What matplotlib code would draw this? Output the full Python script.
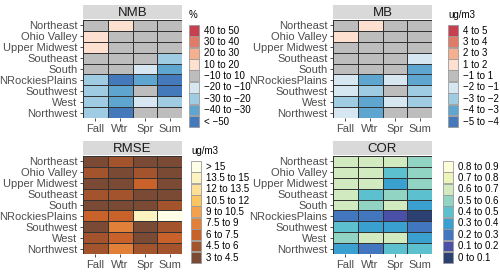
import numpy as np
import matplotlib
matplotlib.use("Agg")
import matplotlib.pyplot as plt
from matplotlib.colors import ListedColormap, BoundaryNorm
from matplotlib.patches import Patch

plt.rcParams['font.family'] = ['Liberation Sans', 'DejaVu Sans']

regions = ["Northeast", "Ohio Valley", "Upper Midwest", "Southeast", "South",
           "NRockiesPlains", "Southwest", "West", "Northwest"]
seasons = ["Fall", "Wtr", "Spr", "Sum"]

# NMB (%) estimated values per region (rows) and season (cols)
nmb = [
    [0, 15, 0, 0],
    [15, 0, 0, 0],
    [15, 0, 0, 0],
    [0, 0, 0, -25],
    [0, 0, -15, -35],
    [-25, -55, -35, -55],
    [-25, -35, 0, -55],
    [-25, -35, -15, -25],
    [-25, -55, 0, 0],
]
# MB (ug/m3)
mb = [
    [0, 1.5, 0, 0],
    [1.5, 0, 0, 0],
    [0, 0, 0, 0],
    [0, 0, 0, -1.5],
    [0, 0, 0, -3.5],
    [-1.5, -3.5, -1.5, -3.5],
    [-1.5, -2.5, 0, -2.5],
    [-2.5, -3.5, -1.5, -2.5],
    [-1.5, -3.5, 0, 0],
]
# RMSE (ug/m3)
rmse = [
    [4.0, 5.2, 4.0, 4.0],
    [5.2, 4.0, 5.2, 4.0],
    [4.0, 4.0, 6.8, 4.0],
    [5.2, 5.2, 4.0, 4.0],
    [4.0, 4.0, 4.0, 5.2],
    [6.8, 6.8, 14.0, 16.0],
    [4.0, 8.0, 4.0, 5.2],
    [5.2, 6.8, 4.0, 6.8],
    [5.2, 8.0, 5.2, 5.2],
]
# COR
cor = [
    [0.65, 0.65, 0.65, 0.55],
    [0.65, 0.65, 0.45, 0.55],
    [0.65, 0.65, 0.35, 0.55],
    [0.65, 0.45, 0.55, 0.45],
    [0.65, 0.55, 0.65, 0.35],
    [0.25, 0.25, 0.15, 0.05],
    [0.45, 0.35, 0.35, 0.25],
    [0.55, 0.65, 0.65, 0.35],
    [0.35, 0.25, 0.45, 0.45],
]

nmb_bounds = [-100, -40, -30, -20, -10, 10, 20, 30, 40, 50]
nmb_labels = ["< \u221250", "\u221240 to \u221230", "\u221230 to \u221220", "\u221220 to \u221210",
              "\u221210 to 10", "10 to 20", "20 to 30", "30 to 40", "40 to 50"]
mb_bounds = [-5, -4, -3, -2, -1, 1, 2, 3, 4, 5]
mb_labels = ["\u22125 to \u22124", "\u22124 to \u22123", "\u22123 to \u22122", "\u22122 to \u22121",
             "\u22121 to 1", "1 to 2", "2 to 3", "3 to 4", "4 to 5"]
rmse_bounds = [3, 4.5, 6, 7.5, 9, 10.5, 12, 13.5, 15, 100]
rmse_labels = ["3 to 4.5", "4.5 to 6", "6 to 7.5", "7.5 to 9", "9 to 10.5",
               "10.5 to 12", "12 to 13.5", "13.5 to 15", "> 15"]
cor_bounds = [0, 0.1, 0.2, 0.3, 0.4, 0.5, 0.6, 0.7, 0.8, 0.9]
cor_labels = ["0 to 0.1", "0.1 to 0.2", "0.2 to 0.3", "0.3 to 0.4", "0.4 to 0.5",
              "0.5 to 0.6", "0.6 to 0.7", "0.7 to 0.8", "0.8 to 0.9"]

div_colors = ["#4479bb", "#5ea5d0", "#a0cce3", "#d6e7f1", "#bdbdbd",
              "#fde0cf", "#f5b090", "#e07b68", "#c8404f"]
rmse_colors = ["#7b4a35", "#a4542d", "#c9622a", "#e2803a", "#f5a04a",
               "#fdc462", "#fde098", "#fdf3c0", "#fefee6"]
cor_colors = ["#2c4172", "#4a4fa8", "#4277bf", "#3aa0d0", "#5cc0ce",
              "#92d4c4", "#d1eabf", "#eef5bb", "#fdfdda"]

W, H = 500, 272
fig = plt.figure(figsize=(W / 100, H / 100), dpi=100)

panels = [
    ("NMB", nmb, nmb_bounds, nmb_labels, div_colors, "%", 83, 20, 189, 25),
    ("MB", mb, mb_bounds, mb_labels, div_colors, "ug/m3", 333, 20, 448, 25),
    ("RMSE", rmse, rmse_bounds, rmse_labels, rmse_colors, "ug/m3", 83, 156, 191, 161),
    ("COR", cor, cor_bounds, cor_labels, cor_colors, None, 333, 156, 443, 161),
]

pw, ph = 99, 98
for title, data, bounds, labels, colors, ltitle, x0, y0, lx, ly in panels:
    ax = fig.add_axes([x0 / W, 1 - (y0 + ph) / H, pw / W, ph / H])
    arr = np.array(data, dtype=float)
    cmap = ListedColormap(colors)
    norm = BoundaryNorm(bounds, cmap.N)
    ax.pcolormesh(np.arange(len(seasons) + 1), np.arange(len(regions) + 1), arr,
                  cmap=cmap, norm=norm, edgecolors="#333333", linewidth=0.6)
    ax.set_xlim(0, len(seasons))
    ax.set_ylim(len(regions), 0)
    ax.set_xticks(np.arange(len(seasons)) + 0.5)
    ax.set_xticklabels(seasons)
    ax.set_yticks(np.arange(len(regions)) + 0.5)
    ax.set_yticklabels(regions)
    ax.tick_params(axis="both", length=2.5, width=0.6, color="#333333",
                   labelsize=8, labelcolor="#4d4d4d", pad=1.5)
    for s in ax.spines.values():
        s.set_visible(False)
    # strip
    sax = fig.add_axes([x0 / W, 1 - (y0 - 1) / H, pw / W, 14 / H])
    sax.set_facecolor("#d9d9d9")
    sax.set_xticks([]); sax.set_yticks([])
    for s in sax.spines.values():
        s.set_visible(False)
    sax.text(0.5, 0.45, title, ha="center", va="center", fontsize=9.5,
             color="#1a1a1a", transform=sax.transAxes)
    # legend
    handles = [Patch(facecolor=c, edgecolor="#9a9a9a", linewidth=0.6)
               for c in colors[::-1]]
    leg = fig.legend(handles, labels[::-1], loc="upper left",
                     bbox_to_anchor=(lx / W, 1 - ly / H),
                     frameon=False, fontsize=7, handlelength=1.0,
                     handleheight=1.33, labelspacing=0.06, handletextpad=0.5,
                     borderpad=0, borderaxespad=0)
    if ltitle:
        fig.text(lx / W, 1 - (ly - 10) / H, ltitle, fontsize=7, ha="left",
                 va="center", color="black")

fig.savefig("out.png", dpi=100)
